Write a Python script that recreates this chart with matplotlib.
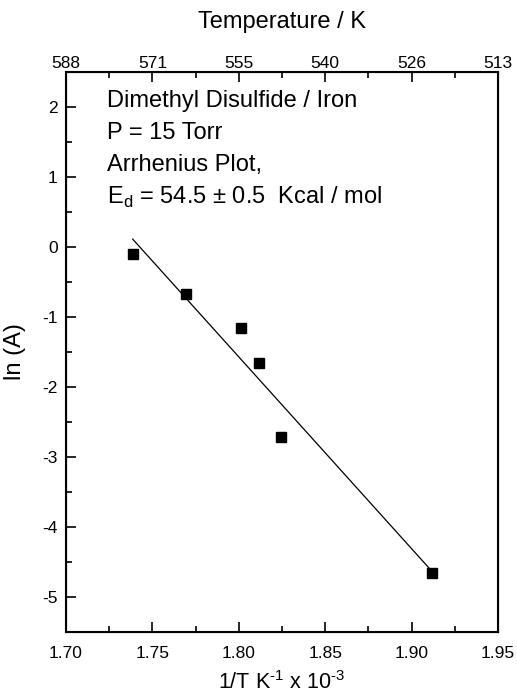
import matplotlib
matplotlib.use("Agg")
import matplotlib.pyplot as plt
from matplotlib.ticker import MultipleLocator
import numpy as np

plt.rcParams["font.family"] = ["Liberation Sans", "DejaVu Sans"]
plt.rcParams["axes.unicode_minus"] = False
plt.rcParams["mathtext.fontset"] = "custom"
plt.rcParams["mathtext.rm"] = "Liberation Sans"

# data
inv_T = [1.739, 1.7694, 1.8015, 1.8115, 1.8244, 1.912]
ln_A = [-0.10, -0.67, -1.16, -1.66, -2.71, -4.65]
# straight-line fit (slope = -Ed/R)
fit_slope = -27.4
fit_intercept = 47.75
fit_x = [1.7386, 1.912]

top_ticks = [1.70, 1.75, 1.80, 1.85, 1.90, 1.95]
top_labels = ["588", "571", "555", "540", "526", "513"]

fig = plt.figure(figsize=(5.17, 6.98), dpi=100)
ax = fig.add_axes([66/517, 1-632/698, 432/517, 560/698])

ax.plot(inv_T, ln_A, ls="none", marker="s", ms=6.5, color="black")
fx = np.array(fit_x)
ax.plot(fx, fit_slope*fx + fit_intercept, color="black", lw=0.9)

ax.set_xlim(1.70, 1.95)
ax.set_ylim(-5.5, 2.5)
ax.xaxis.set_major_locator(MultipleLocator(0.05))
ax.xaxis.set_minor_locator(MultipleLocator(0.025))
ax.yaxis.set_major_locator(MultipleLocator(1))
ax.yaxis.set_minor_locator(MultipleLocator(0.5))
ax.xaxis.set_major_formatter(matplotlib.ticker.FormatStrFormatter("%.2f"))
ax.tick_params(which="both", direction="in", top=False, right=False, labelsize=12.5)
ax.tick_params(which="major", length=7, width=1.2)
ax.tick_params(which="minor", length=4, width=1.2)
ax.tick_params(axis="x", pad=10)
ax.tick_params(axis="y", pad=6)
for s in ax.spines.values():
    s.set_linewidth(1.5)

ax.set_xlabel("1/T K$^{\\mathregular{\u20101}}$ x 10$^{\\mathregular{\u20103}}$",
              fontsize=15.5, labelpad=7)
ax.set_ylabel("ln (A)", fontsize=17, labelpad=12)

ax2 = ax.twiny()
ax2.set_xlim(ax.get_xlim())
ax2.set_xticks(top_ticks)
ax2.set_xticklabels(top_labels)
ax2.xaxis.set_minor_locator(MultipleLocator(0.025))
ax2.tick_params(which="both", direction="in", labelsize=12.5, width=1.2, pad=1)
ax2.tick_params(which="major", length=7)
ax2.tick_params(which="minor", length=4)
ax2.set_xlabel("Temperature / K", fontsize=17, labelpad=20)

lines = ["Dimethyl Disulfide / Iron", "P = 15 Torr", "Arrhenius Plot,",
         "E$_\\mathregular{d}$ = 54.5 \u00b1 0.5  Kcal / mol"]
for i, t in enumerate(lines):
    ax.text(41/432, 0.9375 - i*0.0575, t, transform=ax.transAxes,
            fontsize=17, va="baseline", ha="left")

fig.savefig("out.png", dpi=100)
